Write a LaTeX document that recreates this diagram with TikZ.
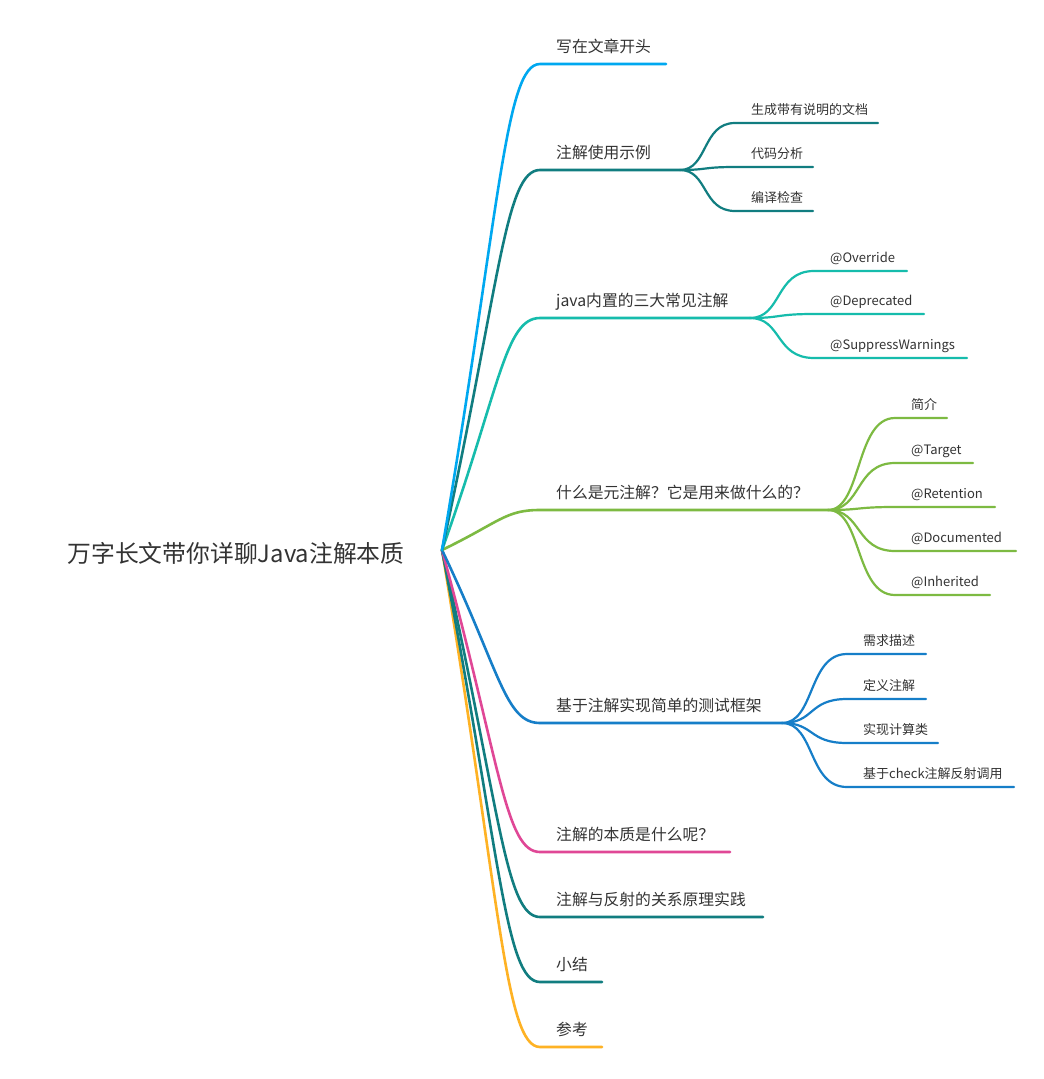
\documentclass[tikz,border=0pt]{standalone}
\usepackage{fontspec}
\setmainfont{Noto Sans CJK SC}
\definecolor{txt}{HTML}{333333}
\definecolor{ccyan}{HTML}{00A8F0}
\definecolor{cteal}{HTML}{117D80}
\definecolor{cjteal}{HTML}{16BCAC}
\definecolor{cgreen}{HTML}{7DBA42}
\definecolor{cblue}{HTML}{167EC8}
\definecolor{cpink}{HTML}{E04796}
\definecolor{corange}{HTML}{FEB224}
\begin{document}
\begin{tikzpicture}[x=1pt,y=-1pt,
  lbl/.style={anchor=base west,inner sep=0,text=txt,font=\fontsize{15.8}{17}\selectfont},
  slbl/.style={anchor=base west,inner sep=0,text=txt,font=\fontsize{13}{15}\selectfont},
  mainln/.style={line width=2.6pt,line cap=round},
  subln/.style={line width=2.2pt,line cap=round}]
\useasboundingbox[fill=white] (0,0) rectangle (1044,1079);

% root
\node[inner sep=0,text=txt,font=\fontsize{23.8}{26}\selectfont] (root) at (236,553) {万字长文带你详聊Java注解本质};
\coordinate (r) at (442,550);

% main branch coordinates
\coordinate (m1) at (540,64);   \coordinate (m1e) at (666,64);
\coordinate (m2) at (540,170);  \coordinate (m2e) at (680,170);
\coordinate (m3) at (540,318);  \coordinate (m3e) at (750,318);
\coordinate (m4) at (540,510);  \coordinate (m4e) at (828,510);
\coordinate (m5) at (540,723);  \coordinate (m5e) at (782,723);
\coordinate (m6) at (540,852);  \coordinate (m6e) at (730,852);
\coordinate (m7) at (540,917);  \coordinate (m7e) at (763,917);
\coordinate (m8) at (540,982);  \coordinate (m8e) at (602,982);
\coordinate (m9) at (540,1047); \coordinate (m9e) at (602,1047);

% main branches (P1 = (500, 550+0.7dy), P2 = (505, y))
\draw[mainln,corange] (r) .. controls (500,898) and (505,1047) .. (m9) -- (m9e);
\draw[mainln,cteal] (r) .. controls (500,852) and (505,982) .. (m8) -- (m8e);
\draw[mainln,cteal] (r) .. controls (500,807) and (505,917) .. (m7) -- (m7e);
\draw[mainln,cpink] (r) .. controls (500,761) and (505,852) .. (m6) -- (m6e);
\draw[mainln,cblue] (r) .. controls (500,671) and (505,723) .. (m5) -- (m5e);
\draw[mainln,cgreen] (r) .. controls (500,522) and (505,510) .. (m4) -- (m4e);
\draw[mainln,cjteal] (r) .. controls (500,388) and (505,318) .. (m3) -- (m3e);
\draw[mainln,cteal] (r) .. controls (500,284) and (505,170) .. (m2) -- (m2e);
\draw[mainln,ccyan] (r) .. controls (500,210) and (505,64) .. (m1) -- (m1e);

% main labels
\node[lbl] (t1) at (556,52) {写在文章开头};
\node[lbl] (t2) at (556,158) {注解使用示例};
\node[lbl] (t3) at (556,306) {java内置的三大常见注解};
\node[lbl] (t4) at (556,498) {什么是元注解？它是用来做什么的？};
\node[lbl] (t5) at (556,711) {基于注解实现简单的测试框架};
\node[lbl] (t6) at (556,840) {注解的本质是什么呢？};
\node[lbl] (t7) at (556,905) {注解与反射的关系原理实践};
\node[lbl] (t8) at (556,970) {小结};
\node[lbl] (t9) at (556,1035) {参考};

% sub branches of 2 (teal)
\coordinate (s21) at (735,123); \coordinate (s21e) at (878,123);
\coordinate (s22) at (735,167); \coordinate (s22e) at (813,167);
\coordinate (s23) at (735,211); \coordinate (s23e) at (813,211);
\draw[subln,cteal] (m2e) .. controls (708,170) and (702,123) .. (s21) -- (s21e);
\draw[subln,cteal] (m2e) .. controls (708,170) and (702,167) .. (s22) -- (s22e);
\draw[subln,cteal] (m2e) .. controls (708,170) and (702,211) .. (s23) -- (s23e);
\node[slbl] (u21) at (751,114) {生成带有说明的文档};
\node[slbl] (u22) at (751,158) {代码分析};
\node[slbl] (u23) at (751,202) {编译检查};

% sub branches of 3 (jteal)
\coordinate (s31) at (814,271); \coordinate (s31e) at (907,271);
\coordinate (s32) at (814,314); \coordinate (s32e) at (924,314);
\coordinate (s33) at (814,358); \coordinate (s33e) at (967,358);
\draw[subln,cjteal] (m3e) .. controls (782,318) and (775,271) .. (s31) -- (s31e);
\draw[subln,cjteal] (m3e) .. controls (782,318) and (775,314) .. (s32) -- (s32e);
\draw[subln,cjteal] (m3e) .. controls (782,318) and (775,358) .. (s33) -- (s33e);
\node[slbl] (u31) at (830,262) {@Override};
\node[slbl] (u32) at (830,305) {@Deprecated};
\node[slbl] (u33) at (830,349) {@SuppressWarnings};

% sub branches of 4 (green)
\coordinate (s41) at (895,418); \coordinate (s41e) at (947,418);
\coordinate (s42) at (895,463); \coordinate (s42e) at (973,463);
\coordinate (s43) at (895,507); \coordinate (s43e) at (995,507);
\coordinate (s44) at (895,551); \coordinate (s44e) at (1016,551);
\coordinate (s45) at (895,595); \coordinate (s45e) at (990,595);
\draw[subln,cgreen] (m4e) .. controls (862,510) and (855,418) .. (s41) -- (s41e);
\draw[subln,cgreen] (m4e) .. controls (862,510) and (855,463) .. (s42) -- (s42e);
\draw[subln,cgreen] (m4e) .. controls (862,510) and (855,507) .. (s43) -- (s43e);
\draw[subln,cgreen] (m4e) .. controls (862,510) and (855,551) .. (s44) -- (s44e);
\draw[subln,cgreen] (m4e) .. controls (862,510) and (855,595) .. (s45) -- (s45e);
\node[slbl] (u41) at (911,409) {简介};
\node[slbl] (u42) at (911,454) {@Target};
\node[slbl] (u43) at (911,498) {@Retention};
\node[slbl] (u44) at (911,542) {@Documented};
\node[slbl] (u45) at (911,586) {@Inherited};

% sub branches of 5 (blue)
\coordinate (s51) at (847,654); \coordinate (s51e) at (926,654);
\coordinate (s52) at (847,699); \coordinate (s52e) at (926,699);
\coordinate (s53) at (847,743); \coordinate (s53e) at (938,743);
\coordinate (s54) at (847,787); \coordinate (s54e) at (1014,787);
\draw[subln,cblue] (m5e) .. controls (815,723) and (808,654) .. (s51) -- (s51e);
\draw[subln,cblue] (m5e) .. controls (815,723) and (808,699) .. (s52) -- (s52e);
\draw[subln,cblue] (m5e) .. controls (815,723) and (808,743) .. (s53) -- (s53e);
\draw[subln,cblue] (m5e) .. controls (815,723) and (808,787) .. (s54) -- (s54e);
\node[slbl] (u51) at (863,645) {需求描述};
\node[slbl] (u52) at (863,690) {定义注解};
\node[slbl] (u53) at (863,734) {实现计算类};
\node[slbl] (u54) at (863,778) {基于check注解反射调用};
\end{tikzpicture}
\end{document}
